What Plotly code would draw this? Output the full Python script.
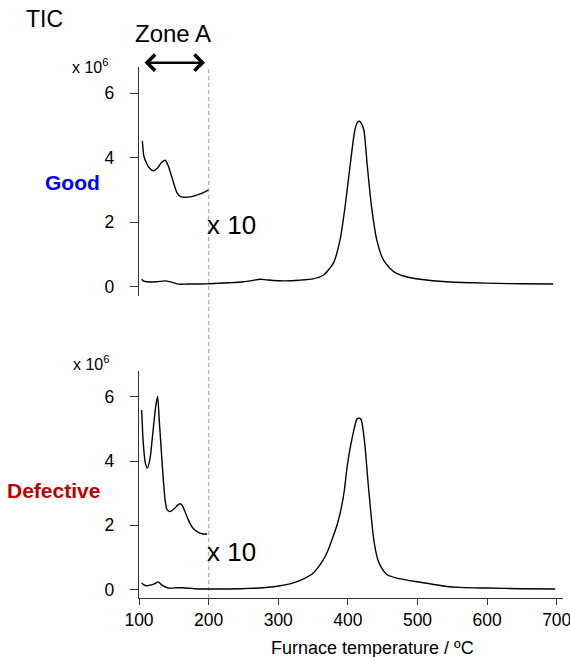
import plotly.graph_objects as go

# ---------------- data ----------------
good_T = [103.8, 107, 112, 125, 137, 145, 156, 170, 200, 230, 250, 265, 274, 283, 293, 310, 330, 350, 365, 379,
          388.8, 396, 403, 410, 414, 416.6, 419, 423, 428, 434, 441.5, 451, 460, 470, 485, 503.7, 542, 580, 614, 650, 695]
good_y = [0.23, 0.17, 0.15, 0.15, 0.18, 0.15, 0.08, 0.08, 0.09, 0.12, 0.15, 0.20, 0.23, 0.21, 0.19, 0.18, 0.20, 0.24, 0.36, 0.72,
          1.45, 2.48, 3.72, 4.85, 5.10, 5.13, 5.08, 4.85, 3.72, 2.48, 1.45, 0.83, 0.58, 0.41, 0.30, 0.23, 0.15, 0.12, 0.10, 0.09, 0.08]

good10_T = [104.8, 107, 111, 115, 120.5, 126, 132, 137.4, 142, 147, 151, 155, 160, 166, 175, 183, 191, 199.6]
good10_y = [4.52, 4.05, 3.82, 3.68, 3.59, 3.66, 3.84, 3.92, 3.75, 3.41, 3.12, 2.89, 2.79, 2.77, 2.79, 2.84, 2.90, 2.99]

def_T = [103.8, 107, 111, 116, 122, 127.7, 133, 142, 155, 163, 180, 197, 230, 260, 274, 290, 302.6, 317, 335, 350.4,
         364.8, 372, 379, 385, 391, 395, 398.4, 402, 405.6, 409, 412.8, 415, 418, 420, 422, 424.7, 427, 429.5, 433,
         436.6, 440, 443.8, 450, 455.8, 470, 503.7, 542, 560, 599.6, 650, 697.7]
def_y = [0.21, 0.15, 0.12, 0.14, 0.18, 0.24, 0.14, 0.05, 0.06, 0.06, 0.03, 0.02, 0.02, 0.04, 0.05, 0.08, 0.12, 0.18, 0.32, 0.52,
         0.93, 1.25, 1.66, 2.05, 2.59, 3.10, 3.73, 4.25, 4.66, 5.00, 5.30, 5.33, 5.32, 5.23, 4.95, 4.45, 3.85, 3.21, 2.40,
         1.66, 1.20, 0.88, 0.62, 0.47, 0.36, 0.23, 0.10, 0.07, 0.05, 0.03, 0.02]

def10_T = [103.8, 106, 109, 112, 116, 120, 124, 126.8, 129, 132.6, 135, 137.4, 140, 143.6, 147, 151.7, 155, 159, 162,
           166, 170, 173, 178, 185, 191, 198]
def10_y = [5.59, 4.60, 3.95, 3.78, 4.10, 4.90, 5.70, 6.02, 5.30, 4.14, 3.40, 2.80, 2.50, 2.43, 2.46, 2.54, 2.62, 2.67, 2.62,
           2.43, 2.22, 2.07, 1.90, 1.78, 1.74, 1.73]

x_ticks = [100, 200, 300, 400, 500, 600, 700]
y_ticks = [0, 2, 4, 6]

# ---------------- layout helpers ----------------
W, H = 570, 657
L, R, T, B = 139, 7, 67, 59
PW, PH = W - L - R, H - T - B
FONT = "Liberation Sans, Arial, sans-serif"

def px(x):
    return (x - L) / PW

def py(y):
    return (H - B - y) / PH

fig = go.Figure()
line = dict(color="black", width=1.4, shape="spline", smoothing=0.6)
fig.add_trace(go.Scatter(x=good_T, y=good_y, mode="lines", line=line, xaxis="x", yaxis="y"))
fig.add_trace(go.Scatter(x=good10_T, y=good10_y, mode="lines", line=line, xaxis="x", yaxis="y"))
fig.add_trace(go.Scatter(x=def_T, y=def_y, mode="lines", line=line, xaxis="x2", yaxis="y2"))
fig.add_trace(go.Scatter(x=def10_T, y=def10_y, mode="lines", line=line, xaxis="x2", yaxis="y2"))

yax = dict(showgrid=False, zeroline=False, showline=True, linecolor="#333", linewidth=1.3,
           ticks="outside", ticklen=8, tickcolor="#333", tickwidth=1.3, tickvals=y_ticks,
           ticklabelstandoff=12, automargin=False,
           tickfont=dict(size=17.5, color="black", family=FONT))

fig.update_layout(
    width=W, height=H, margin=dict(l=L, r=R, t=T, b=B, autoexpand=False),
    paper_bgcolor="white", plot_bgcolor="white", showlegend=False,
    font=dict(family=FONT, color="black"),
    xaxis=dict(domain=[0, 1], anchor="y", range=[100, 709], visible=False, matches="x2"),
    yaxis=dict(domain=[py(296), 1], anchor="x", range=[-0.29, 6.81], **yax),
    xaxis2=dict(domain=[0, 1], anchor="y2", range=[100, 709], showgrid=False, zeroline=False,
                showline=True, linecolor="#333", linewidth=1.3, ticks="outside", ticklen=6,
                tickcolor="#333", tickwidth=1.3, tickvals=x_ticks, ticklabeloverflow="allow",
                automargin=False, tickfont=dict(size=17.5, color="black", family=FONT)),
    yaxis2=dict(domain=[0, py(370.7)], anchor="x2", range=[-0.26, 6.81], **yax),
)

# dashed zone boundary at 200 °C spanning both panels
fig.add_shape(type="line", xref="x2", yref="paper", x0=200, x1=200, y0=0, y1=1,
              line=dict(color="#b5b5b5", width=1.4, dash="4px,3px"), layer="below")

ann = []
def text(s, x, y, size, xanchor="center", color="black", bold=False):
    if bold:
        s = "<b>" + s + "</b>"
    ann.append(dict(text=s, x=px(x), y=py(y), xref="paper", yref="paper", showarrow=False,
                    xanchor=xanchor, yanchor="middle", font=dict(size=size, color=color, family=FONT)))

text("TIC", 24, 19, 23, xanchor="left")
text("Zone A", 173, 33, 24)
text("x 10<sup>6</sup>", 110, 66, 16, xanchor="right")
text("x 10<sup>6</sup>", 111, 363, 16, xanchor="right")
text("Good", 102, 183, 21, xanchor="right", color="#0000ff", bold=True)
text("Defective", 102, 490, 21, xanchor="right", color="#c00000", bold=True)
text("x 10", 205, 225, 26, xanchor="left")
text("x 10", 205, 552, 26, xanchor="left")
text("Furnace temperature / ºC", 372, 648, 18)

# double-headed arrow for Zone A
ann.append(dict(x=194.8, y=py(62.7), xref="x", yref="paper", ax=-62, ay=0, axref="pixel", ayref="pixel",
                text="", showarrow=True, arrowhead=4, startarrowhead=4, arrowside="end+start",
                arrowwidth=2.4, arrowsize=1.3, startarrowsize=1.3, arrowcolor="black"))

fig.update_layout(annotations=ann)
fig.write_html("out.html", config={"displayModeBar": False},
               post_script="document.body.style.margin='0px';document.body.style.padding='0px';")
